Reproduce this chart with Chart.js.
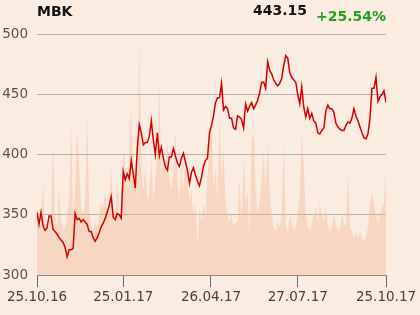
<!DOCTYPE html>
<html>
<head>
<meta charset="utf-8">
<script src="https://cdn.jsdelivr.net/npm/chart.js@4"></script>
<style>
  html, body { margin:0; padding:0; background:#fbece1; }
  #wrap { position:relative; width:420px; height:315px; overflow:hidden; }
  canvas { position:absolute; left:0; top:0; }
  .hdr { position:absolute; font-family:"DejaVu Sans", sans-serif; font-weight:bold; font-size:14px; line-height:14px; white-space:nowrap; }
</style>
</head>
<body>
<div id="wrap">
  <canvas id="c" width="420" height="315"></canvas>
  <div class="hdr" id="title" style="left:37px; top:4px; color:#111;">MBK</div>
  <div class="hdr" id="last" style="right:113px; top:3px; color:#111;">443.15</div>
  <div class="hdr" id="chg" style="left:316px; top:9px; color:#22a022;">+25.54%</div>
</div>
<script>
// ---- data ----
const tickLabels = ["25.10.16", "25.01.17", "26.04.17", "27.07.17", "25.10.17"];
const tickIndex  = [0, 43, 86.75, 130, 174];
const yTicks = [300, 350, 400, 450, 500];

const prices = [
  352,342,352,341,337,339,349,349,338,336,
  334,331,329,327,323,315,321,321,322,351,
  346,347,344,346,344,342,336,336,331,328,
  331,335,340,343,347,352,358,365,348,346,
  351,350,347,386,379,384,380,395,384,372,
  405,425,418,408,410,410,415,428,412,400,
  418,399,406,397,390,387,398,398,405,399,
  393,390,397,401,394,387,376,385,389,383,
  378,374,381,390,395,397,418,424,432,443,
  447,447,459,437,440,438,430,430,422,421,
  432,431,429,422,442,436,440,443,438,441,
  445,451,460,460,455,477,470,467,462,459,
  457,459,463,474,482,480,468,464,462,460,
  450,442,456,439,431,438,430,434,428,426,
  418,417,420,422,436,441,438,438,435,426,
  423,421,420,420,424,427,426,430,438,432,
  428,423,418,414,413,417,430,455,455,464,
  444,448,450,453,443.15
];

const volume = [
  30,20,22,38,18,22,20,25,55,25,
  20,35,22,18,20,25,30,62,25,35,
  61,45,28,25,30,66,28,20,18,22,
  20,25,30,28,35,25,30,45,28,25,
  40,25,30,53,45,35,55,70,40,45,
  30,99,50,35,45,30,35,48,30,40,
  50,80,40,50,45,55,40,35,45,60,
  40,30,45,35,50,40,30,35,25,30,
  12,28,22,30,25,40,55,62,35,45,
  30,66,40,52,30,25,22,25,20,22,
  22,40,22,48,30,35,14,55,60,35,
  25,30,40,50,35,55,35,25,20,18,
  22,20,25,55,20,18,25,22,18,20,
  25,35,58,45,25,20,18,22,25,28,
  22,30,25,22,28,20,18,20,25,22,
  18,20,25,22,20,43,20,18,15,18,
  15,18,15,14,16,20,30,34,30,25,
  22,25,28,30,45
];

// ---- chart ----
const pricePts = prices.map((v, i) => ({x: i, y: v}));
const volPts = volume.map((v, i) => ({x: i, y: v}));

new Chart(document.getElementById('c'), {
  type: 'line',
  data: {
    datasets: [
      {
        label: 'Kurs',
        data: pricePts,
        yAxisID: 'y',
        borderColor: '#d40000',
        borderWidth: 1.5,
        pointRadius: 0,
        tension: 0,
        fill: false,
        order: 1
      },
      {
        label: 'Wolumen',
        data: volPts,
        yAxisID: 'yv',
        borderWidth: 0,
        borderColor: 'rgba(0,0,0,0)',
        backgroundColor: 'rgba(241,186,149,0.42)',
        pointRadius: 0,
        tension: 0,
        fill: 'origin',
        order: 2
      }
    ]
  },
  options: {
    responsive: false,
    animation: false,
    layout: { padding: { left: 0, right: 34, top: 34, bottom: 0 } },
    plugins: { legend: { display: false }, tooltip: { enabled: false } },
    scales: {
      x: {
        type: 'linear',
        min: 0,
        max: prices.length - 1,
        afterBuildTicks: s => { s.ticks = tickIndex.map(v => ({ value: v })); },
        afterFit: s => { s.height = 40; },
        grid: { display: true, drawOnChartArea: false, drawTicks: true, tickLength: 12, color: '#666', lineWidth: 1 },
        border: { display: true, color: '#8a8a8a', width: 1 },
        ticks: {
          autoSkip: false,
          maxRotation: 0,
          padding: 2,
          color: '#444',
          font: { family: 'DejaVu Sans', size: 13.5 },
          callback: (v) => { const k = tickIndex.indexOf(v); return k >= 0 ? tickLabels[k] : ''; }
        }
      },
      y: {
        position: 'left',
        min: 300,
        max: 500,
        afterBuildTicks: s => { s.ticks = yTicks.map(v => ({ value: v })); },
        afterFit: s => { s.width = 37; },
        grid: { color: '#b3b0ad', lineWidth: 1, drawTicks: false },
        border: { display: false },
        ticks: {
          padding: 9,
          color: '#555',
          font: { family: 'DejaVu Sans', size: 13.5 }
        }
      },
      yv: {
        display: false,
        min: 0,
        max: 100
      }
    }
  }
});
</script>
</body>
</html>
